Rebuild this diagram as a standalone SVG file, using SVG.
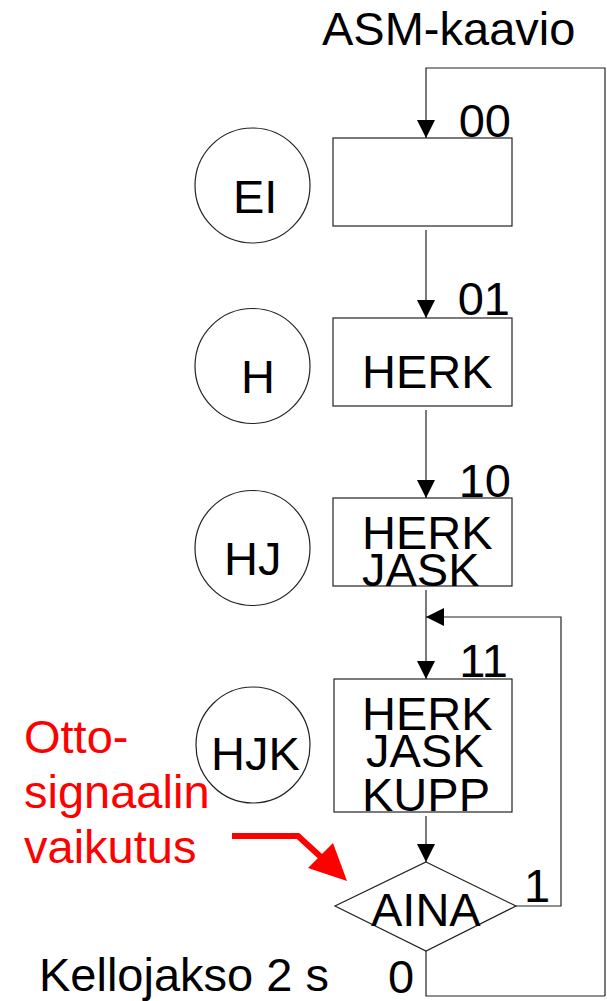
<svg xmlns="http://www.w3.org/2000/svg" width="607" height="1001" viewBox="0 0 607 1001">
  <style>
    text { font-family: "Liberation Sans", Arial, sans-serif; font-size: 47px; fill: #000; }
    .state { fill: #fff; stroke: #222; stroke-width: 1.2; }
    .moore { fill: none; stroke: #222; stroke-width: 1.2; }
    .wire { fill: none; stroke: #222; stroke-width: 1.2; }
    .red { fill: #ff0000; }
    .code { text-anchor: end; }
  </style>
  <defs>
    <marker id="arrow" viewBox="0 0 18 18" refX="18" refY="9" markerWidth="18" markerHeight="18" markerUnits="userSpaceOnUse" orient="auto">
      <path d="M0,0 L18,9 L0,18 Z" fill="#000"/>
    </marker>
  </defs>

  <rect width="607" height="1001" fill="#fff"/>

  <text x="322" y="45">ASM-kaavio</text>

  <!-- connectors -->
  <g id="connectors">
    <path class="wire" d="M605,996 L605,68 L426,68 L426,138" marker-end="url(#arrow)"/>
    <path class="wire" d="M426,230 L426,318" marker-end="url(#arrow)"/>
    <path class="wire" d="M426,410 L426,498" marker-end="url(#arrow)"/>
    <path class="wire" d="M426,590 L426,679" marker-end="url(#arrow)"/>
    <path class="wire" d="M516,906 L561,906 L561,617 L426,617" marker-end="url(#arrow)"/>
    <path class="wire" d="M426,816 L426,862" marker-end="url(#arrow)"/>
    <path class="wire" d="M426,951 L426,996 L605,996"/>
  </g>

  <!-- state 00 -->
  <g id="state-00">
    <circle class="moore" cx="252.5" cy="185.5" r="57.5"/>
    <text x="233" y="213">EI</text>
    <rect class="state" x="333" y="138" width="179" height="88"/>
    <text class="code" x="511" y="137">00</text>
  </g>

  <!-- state 01 -->
  <g id="state-01">
    <circle class="moore" cx="252.5" cy="366" r="57.5"/>
    <text x="241" y="393">H</text>
    <rect class="state" x="333" y="318" width="179" height="88"/>
    <text class="code" x="510" y="315">01</text>
    <text x="362" y="388">HERK</text>
  </g>

  <!-- state 10 -->
  <g id="state-10">
    <circle class="moore" cx="252.5" cy="548" r="57.5"/>
    <text x="224" y="575">HJ</text>
    <rect class="state" x="333" y="498" width="179" height="88"/>
    <text class="code" x="511" y="497">10</text>
    <text x="362" y="549">HERK</text>
    <text x="362" y="586">JASK</text>
  </g>

  <!-- state 11 -->
  <g id="state-11">
    <ellipse class="moore" cx="253" cy="745" rx="57" ry="58"/>
    <text x="211" y="770">HJK</text>
    <rect class="state" x="334" y="679" width="178" height="133"/>
    <text class="code" x="508" y="677">11</text>
    <text x="362" y="730">HERK</text>
    <text x="366" y="767">JASK</text>
    <text x="362" y="811">KUPP</text>
  </g>

  <!-- decision -->
  <g id="decision-aina">
    <path class="state" d="M426,862 L516,906 L426,951 L335,906 Z"/>
    <text x="371" y="926">AINA</text>
    <text x="524" y="902">1</text>
    <text x="388" y="993">0</text>
  </g>

  <text x="39" y="991">Kellojakso 2 s</text>

  <!-- annotation -->
  <g id="annotation">
    <text class="red" x="24" y="753">Otto-</text>
    <text class="red" x="24" y="808">signaalin</text>
    <text class="red" x="24" y="863">vaikutus</text>
    <path d="M232,836 L298,836 L322,858" fill="none" stroke="#ff0000" stroke-width="6"/>
    <path d="M333,843 L308,868 L347,881 Z" fill="#ff0000"/>
  </g>
</svg>
